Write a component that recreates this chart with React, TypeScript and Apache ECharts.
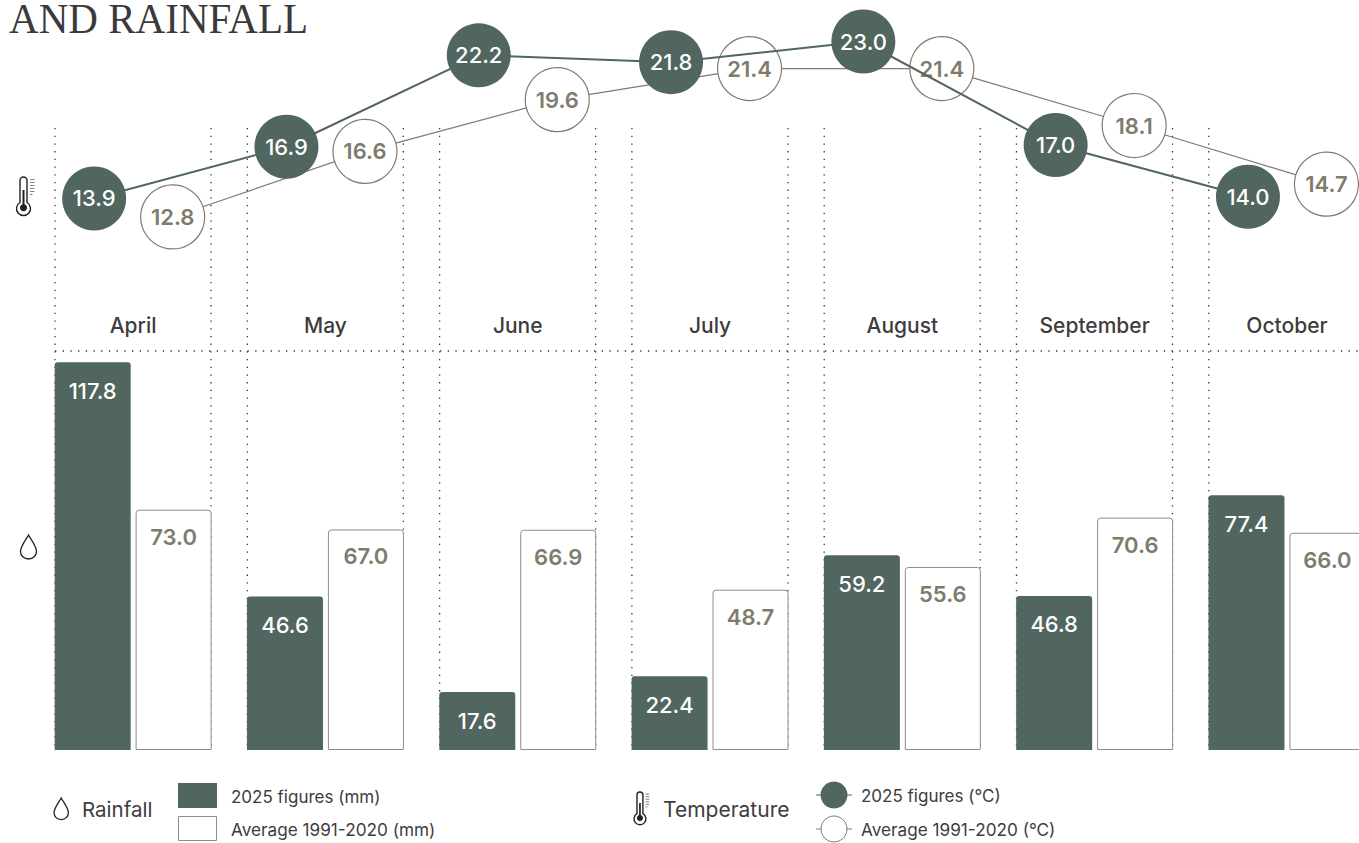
import React, { useEffect, useRef } from "react";
import * as echarts from "echarts";

const months = ["April", "May", "June", "July", "August", "September", "October"];
const rain2025 = [117.8, 46.6, 17.6, 22.4, 59.2, 46.8, 77.4];
const rainAvg = [73.0, 67.0, 66.9, 48.7, 55.6, 70.6, 66.0];
const temp2025 = [13.9, 16.9, 22.2, 21.8, 23.0, 17.0, 14.0];
const tempAvg = [12.8, 16.6, 19.6, 21.4, 21.4, 18.1, 14.7];

const DARK = "#50665f";
const MUTED = "#7e7c6d";
const BORDER = "#8f8e82";
const INK = "#3d3d3d";
const FONT = "Inter, 'Noto Sans', sans-serif";

const BAND = 192.3;
const LEFT = 37;
const GRID_W = BAND * 7;

echarts.graphic.registerShape(
  "dropIcon",
  echarts.graphic.extendPath("M8 0C6 4 0 11 0 16.5A8 7.5 0 0 0 16 16.5C16 11 10 4 8 0Z", {})
);
echarts.graphic.registerShape(
  "thermoIcon",
  echarts.graphic.extendPath(
    "M3.5 3.5A3.5 3.5 0 0 1 10.5 3.5V25.5A7 7 0 1 1 3.5 25.5Z",
    {}
  )
);
echarts.graphic.registerShape(
  "thermoFill",
  echarts.graphic.extendPath(
    "M6 13H8V27.2A3.6 3.6 0 1 1 6 27.2Z",
    {}
  )
);
echarts.graphic.registerShape(
  "thermoTicks",
  echarts.graphic.extendPath("M13.5 2.5H18M13.5 5.5H18M13.5 8.5H18M13.5 11.5H18M13.5 14.5H18M13.5 17.5H16", {})
);

function thermo(x: number, y: number, s: number) {
  return [
    { type: "thermoIcon", x, y, scaleX: s, scaleY: s, style: { fill: "none", stroke: "#222", lineWidth: 1.4 / s } },
    { type: "thermoFill", x, y, scaleX: s, scaleY: s, style: { fill: "#222" } },
    { type: "thermoTicks", x, y, scaleX: s, scaleY: s, style: { fill: "none", stroke: "#666", lineWidth: 0.8 / s } },
  ];
}
function drop(x: number, y: number, s: number) {
  return { type: "dropIcon", x, y, scaleX: s, scaleY: s, style: { fill: "none", stroke: "#222", lineWidth: 1.3 / s } };
}
function txt(text: string, x: number, y: number, size: number, weight = 400) {
  return {
    type: "text",
    x,
    y,
    style: { text, fill: INK, font: `${weight} ${size}px ${FONT}`, verticalAlign: "middle" },
  };
}
function dotted(x1: number, y1: number, x2: number, y2: number) {
  return {
    type: "line",
    z: -1,
    shape: { x1, y1, x2, y2 },
    style: { stroke: "#333", lineWidth: 1.3, lineDash: [1.3, 6.4] },
  };
}

const gridLines: any[] = [];
months.forEach((_, i) => {
  gridLines.push(dotted(55 + BAND * i, 128, 55 + BAND * i, 750));
  gridLines.push(dotted(211 + BAND * i, 128, 211 + BAND * i, 750));
});
gridLines.push(dotted(55, 351, 1359, 351));

const legend: any[] = [
  drop(54, 798, 0.9),
  txt("Rainfall", 82, 809.5, 20.5),
  { type: "rect", shape: { x: 178, y: 783, width: 39, height: 25 }, style: { fill: DARK } },
  { type: "rect", shape: { x: 178.5, y: 816.5, width: 38, height: 24 }, style: { fill: "#fff", stroke: BORDER, lineWidth: 1 } },
  txt("2025 figures (mm)", 231, 796.5, 17),
  txt("Average 1991-2020 (mm)", 231, 829.5, 17.2),
  ...thermo(634, 792, 0.85),
  txt("Temperature", 663, 809.5, 21),
  { type: "line", shape: { x1: 816, y1: 795, x2: 852, y2: 795 }, style: { stroke: DARK, lineWidth: 1 } },
  { type: "circle", shape: { cx: 834, cy: 795, r: 13.5 }, style: { fill: DARK } },
  { type: "line", shape: { x1: 816, y1: 829, x2: 852, y2: 829 }, style: { stroke: MUTED, lineWidth: 1 } },
  { type: "circle", shape: { cx: 834, cy: 829, r: 13 }, style: { fill: "#fff", stroke: MUTED, lineWidth: 1 } },
  txt("2025 figures (°C)", 861, 795.5, 17),
  txt("Average 1991-2020 (°C)", 861, 829.5, 17.2),
];

const title = {
  type: "text",
  x: 9,
  y: 18.5,
  scaleX: 0.955,
  style: {
    text: "AND RAINFALL",
    fill: "#3a3a3a",
    font: "400 43px 'Liberation Serif', serif",
    lineHeight: 30,
    verticalAlign: "middle",
  },
};

const icons: any[] = [...thermo(16.5, 177, 1), drop(20.5, 535, 1)];

function lineSeries(data: number[], idx: number, fill: string, stroke: string, labelColor: string, width: number, z: number, weight: number) {
  return {
    type: "line",
    xAxisIndex: idx,
    yAxisIndex: idx,
    data,
    z,
    symbol: "circle",
    symbolSize: 64,
    showAllSymbol: true,
    clip: false,
    lineStyle: { color: stroke, width },
    itemStyle: { color: fill, borderColor: stroke, borderWidth: fill === "#ffffff" ? 1.2 : 0, opacity: 1 },
    label: {
      show: true,
      position: "inside",
      formatter: (p: any) => Number(p.value).toFixed(1),
      color: labelColor,
      fontFamily: FONT,
      fontSize: 22,
      fontWeight: weight,
    },
    emphasis: { disabled: true },
    silent: true,
  };
}

function barSeries(data: number[], color: string, stroke: string, labelColor: string, distance: number, weight: number) {
  return {
    type: "bar",
    xAxisIndex: 0,
    yAxisIndex: 0,
    data,
    barWidth: 76,
    barGap: "6.5%",
    clip: false,
    itemStyle: { color, borderColor: stroke, borderWidth: color === "#ffffff" ? 1 : 0, borderRadius: [3, 3, 0, 0] },
    label: {
      show: true,
      position: "insideTop",
      distance,
      formatter: (p: any) => Number(p.value).toFixed(1),
      color: labelColor,
      fontFamily: FONT,
      fontSize: 22,
      fontWeight: weight,
    },
    emphasis: { disabled: true },
    silent: true,
  };
}

const hiddenCat = (gridIndex: number) => ({ type: "category", gridIndex, data: months, show: false });
const hiddenTemp = (gridIndex: number) => ({ type: "value", gridIndex, min: 10, max: 25, show: false });

export default function App() {
  const ref = useRef<HTMLDivElement>(null);
  useEffect(() => {
    const chart = echarts.init(ref.current!, null, { renderer: "svg" });
    chart.setOption({
      animation: false,
      backgroundColor: "#ffffff",
      grid: [
        { left: LEFT, top: 355, width: GRID_W, height: 395, outerBoundsMode: "none" },
        { left: LEFT - 39, top: 7, width: GRID_W, height: 258.75, outerBoundsMode: "none" },
        { left: LEFT + 39.5, top: 6.5, width: GRID_W, height: 258.75, outerBoundsMode: "none" },
      ],
      xAxis: [
        {
          type: "category",
          gridIndex: 0,
          data: months,
          position: "top",
          axisLine: { show: false },
          axisTick: { show: false },
          axisLabel: { color: INK, fontFamily: FONT, fontSize: 21, fontWeight: 500, margin: 19, hideOverlap: false, interval: 0 },
        },
        hiddenCat(1),
        hiddenCat(2),
      ],
      yAxis: [
        { type: "value", gridIndex: 0, min: 0, max: 120, show: false },
        hiddenTemp(1),
        hiddenTemp(2),
      ],
      graphic: { elements: [title, ...gridLines, ...icons, ...legend] },
      series: [
        barSeries(rain2025, DARK, DARK, "#ffffff", 17.5, 500),
        barSeries(rainAvg, "#ffffff", BORDER, MUTED, 16, 600),
        lineSeries(tempAvg, 2, "#ffffff", MUTED, MUTED, 1.2, 3, 600),
        lineSeries(temp2025, 1, DARK, DARK, "#ffffff", 2, 4, 500),
      ],
    });
    return () => chart.dispose();
  }, []);
  return <div ref={ref} style={{ position: "fixed", left: 0, top: 0, width: 1359, height: 843 }} />;
}
